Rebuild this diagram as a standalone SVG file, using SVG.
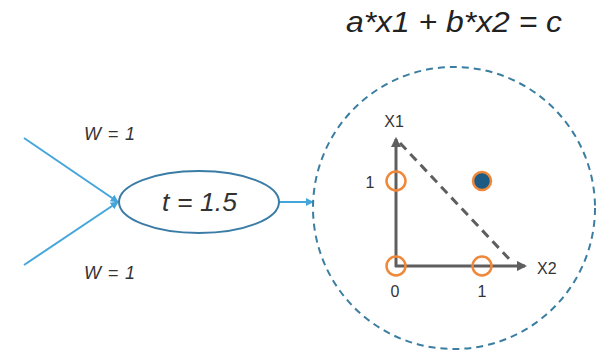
<svg xmlns="http://www.w3.org/2000/svg" width="597" height="351" viewBox="0 0 597 351">
<style>
.lbl{font-family:"Liberation Sans",Arial,sans-serif;fill:#333}
.it{font-style:italic}
.in{stroke:#45a6dc;stroke-width:2;fill:none}
.ax{stroke:#5e5e5e;stroke-width:3;fill:none}
.pt{stroke:#f0883a;stroke-width:2.5;fill:none}
</style>
<defs>
<marker id="ba" viewBox="0 0 10 10" refX="9" refY="5" markerWidth="4" markerHeight="4" orient="auto"><path d="M0,0 L10,5 L0,10 z" fill="#45a6dc"/></marker>
<marker id="ga" viewBox="0 0 10 10" refX="8" refY="5" markerWidth="3.5" markerHeight="3.5" orient="auto"><path d="M0,0 L10,5 L0,10 z" fill="#5e5e5e"/></marker>
</defs>
<text class="lbl it" x="346" y="32" font-size="30" textLength="216" lengthAdjust="spacingAndGlyphs" style="fill:#222">a*x1 + b*x2 = c</text>
<g id="connectors">
<line class="in" x1="24" y1="138" x2="118" y2="202" marker-end="url(#ba)"/>
<line class="in" x1="24" y1="265" x2="118" y2="202" marker-end="url(#ba)"/>
<line class="in" x1="279" y1="202" x2="313" y2="202" marker-end="url(#ba)"/>
</g>
<g id="w1"><text class="lbl it" x="84" y="140" font-size="18" textLength="51">W = 1</text></g>
<g id="w2"><text class="lbl it" x="84" y="279" font-size="18" textLength="51">W = 1</text></g>
<g id="neuron">
<ellipse cx="199" cy="202" rx="80" ry="31" fill="#fff" stroke="#3a7ca5" stroke-width="2"/>
<text class="lbl it" x="162" y="211" font-size="26.5" textLength="75">t = 1.5</text>
</g>
<g id="plot">
<circle cx="454" cy="208" r="141" fill="none" stroke="#3b7ea1" stroke-width="2" stroke-dasharray="7,5"/>
<line class="ax" x1="396" y1="267" x2="396" y2="139" marker-end="url(#ga)"/>
<line class="ax" x1="395" y1="266" x2="525" y2="266" marker-end="url(#ga)"/>
<line x1="400" y1="143" x2="512" y2="262" stroke="#5e5e5e" stroke-width="3" stroke-dasharray="9,6"/>
<circle class="pt" cx="396" cy="266" r="9.5"/>
<circle class="pt" cx="396" cy="181" r="9.5"/>
<circle class="pt" cx="482" cy="266" r="9.5"/>
<circle cx="482" cy="181" r="9" fill="#1d5b85" stroke="#f0883a" stroke-width="2.5"/>
<text class="lbl" x="394" y="127" font-size="16" text-anchor="middle">X1</text>
<text class="lbl" x="537" y="274" font-size="16">X2</text>
<text class="lbl" x="370" y="188" font-size="16" text-anchor="middle">1</text>
<text class="lbl" x="395" y="297" font-size="16" text-anchor="middle">0</text>
<text class="lbl" x="482" y="297" font-size="16" text-anchor="middle">1</text>
</g>
</svg>
